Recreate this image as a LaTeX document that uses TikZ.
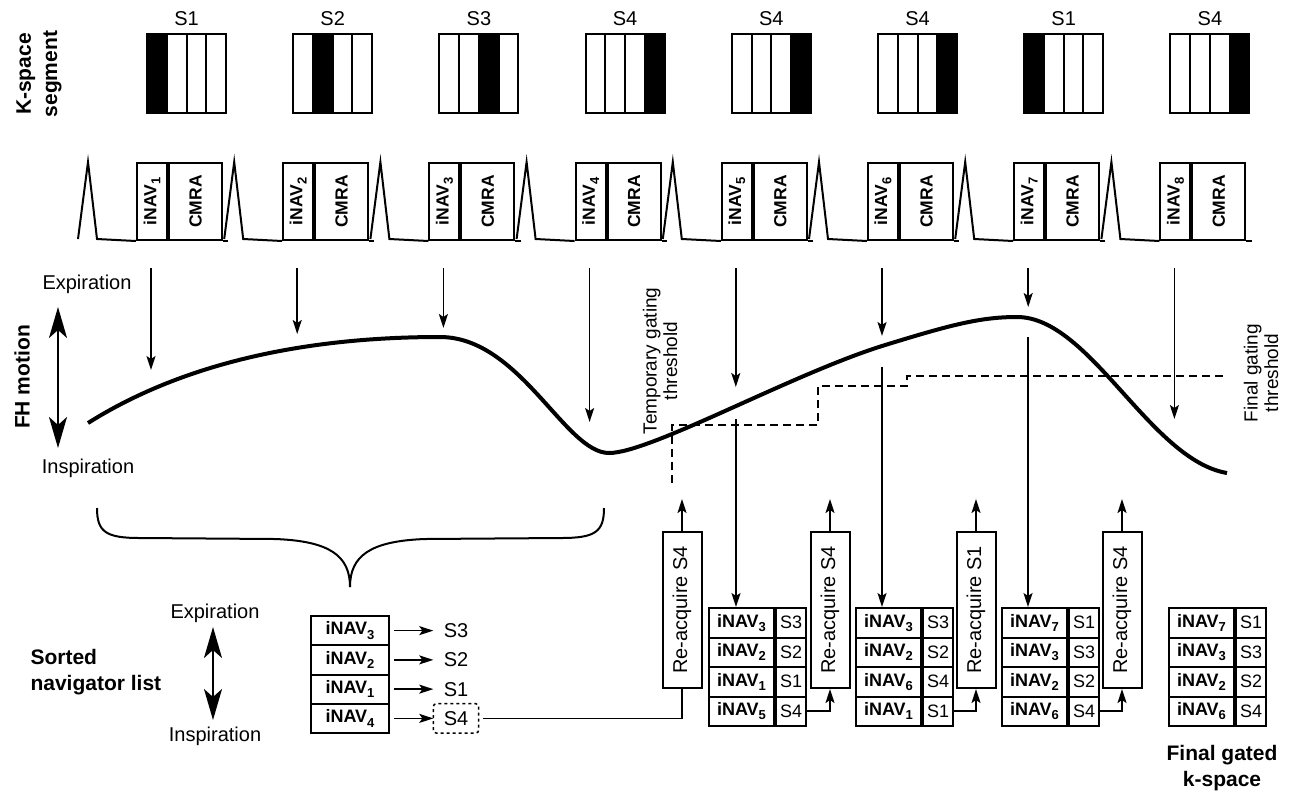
\documentclass[tikz,border=0pt]{standalone}
\usepackage{fontspec}
\setmainfont{Liberation Sans}
\usetikzlibrary{arrows.meta,calc}
\newcommand\fnreg{\fontsize{20}{24}\selectfont}
\newcommand\fnthr{\fontsize{19}{20.5}\selectfont}
\newcommand\fnbold{\fontsize{21}{26}\selectfont\bfseries}
\newcommand\fnbox{\fontsize{17.5}{20}\selectfont\bfseries}
\newcommand\fncell{\fontsize{18}{20}\selectfont}
\newcommand\fncellb{\fontsize{18}{20}\selectfont\bfseries}
\newcommand\nsub[1]{\raisebox{-0.45ex}{\fontsize{13}{13}\selectfont#1}}
\begin{document}
\begin{tikzpicture}[x=1pt,y=-1pt,
  lw/.style={line width=2pt},
  arr/.style={line width=1.7pt,-{Stealth[length=14pt,width=9pt,inset=3pt]}},
  dbl/.style={line width=2.2pt,{Stealth[length=31pt,width=18pt,inset=8pt]}-{Stealth[length=31pt,width=18pt,inset=8pt]}},
  box/.style={draw,line width=2pt,inner sep=0pt},
  navcell/.style={box,minimum width=65pt,minimum height=29.5pt,font=\fncellb,anchor=west},
  scell/.style={box,minimum width=30pt,minimum height=29.5pt,font=\fncell,anchor=west},
  sortcell/.style={box,minimum width=78pt,minimum height=29.25pt,font=\fncellb},
  seglab/.style={minimum width=45pt,minimum height=29pt,inner sep=0pt,font=\fnreg},
  reacq/.style={box,minimum width=39pt,minimum height=156pt,font=\fnreg},
  thr/.style={dash pattern=on 8pt off 5pt,line width=1.7pt}
]
\useasboundingbox (0,0) rectangle (1289,796);

% ---- k-space segments
\node[font=\fnbold,align=center,rotate=90] (kslab) at (39,74) {K-space\\segment};
\foreach \lab/\f [count=\i from 0] in {S1/1,S2/2,S3/3,S4/4,S4/4,S4/4,S1/1,S4/4}{
  \pgfmathsetmacro\xx{147+146.2*\i}
  \fill ({\xx+19.75*(\f-1)},34) rectangle ++(19.75,79);
  \foreach \k in {1,2,3} \draw[lw] ({\xx+19.75*\k},34) -- ++(0,79);
  \node[box,minimum width=79pt,minimum height=79pt] (seg\i) at ({\xx+39.5},73.5) {};
  \node[font=\fnreg] (segl\i) at ({\xx+39.5},19) {\lab};
}

% ---- pulse sequence
\foreach \i in {0,...,7}{
  \pgfmathsetmacro\xs{78+146.2*\i}
  \pgfmathsetmacro\xb{136+146.2*\i}
  \pgfmathtruncatemacro\n{\i+1}
  \node[box,minimum width=30pt,minimum height=77pt,anchor=north west,font=\fnbox] (nav\i) at (\xb,162) {\rotatebox{90}{iNAV\nsub{\n}}};
  \node[box,minimum width=53pt,minimum height=77pt,anchor=north west,font=\fnbox] (cmra\i) at (nav\i.north east) {\rotatebox{90}{CMRA}};
  \draw[lw] (\xs,239) -- ({\xs+10},162) -- ({\xs+19},239) -- (nav\i.south west);
  \draw[lw] (cmra\i.south east) -- ++(5.2,0);
}

% ---- arrows to the curve
\foreach \i/\e in {0/370,1/334,2/328,3/422,4/387,5/336,6/307,7/419}{
  \pgfmathsetmacro\xa{151+146.2*\i}
  \draw[arr] (\xa,268) -- (\xa,\e);
}

% ---- FH motion
\node[font=\fnbold,rotate=90] (fh) at (22,377) {FH motion};
\node[font=\fnreg] (exp1) at (87,284) {Expiration};
\node[font=\fnreg] (ins1) at (88,468) {Inspiration};
\draw[dbl] (58,307) -- (58,448);

\draw[line width=4pt] (88,423) .. controls (180,365) and (300,337) .. (440,337)
  .. controls (520,337) and (565,453) .. (609,453)
  .. controls (650,453) and (790,375) .. (882,346)
  .. controls (950,325) and (980,317) .. (1017,317)
  .. controls (1090,317) and (1150,460) .. (1227,473);

% ---- thresholds
\draw[thr] (672,483) -- (672,425) -- (818,425) -- (818,386) -- (907,386) -- (907,376) -- (1227,376);
\node[font=\fnthr,align=center,rotate=90] (tmp) at (660,361) {Temporary gating\\threshold};
\node[font=\fnthr,align=center,rotate=90] (fin) at (1261,373) {Final gating\\threshold};

% ---- brace
\draw[lw] (97,508) .. controls (97,532) and (106,538) .. (140,538) -- (275,539)
  .. controls (330,541) and (350,556) .. (350,587);
\draw[lw] (604,508) .. controls (604,532) and (595,538) .. (561,538) -- (425,539)
  .. controls (370,541) and (350,556) .. (350,587);

% ---- sorted navigator list
\node[font=\fnbold,align=left,anchor=west] (sorted) at (27,672) {Sorted\\navigator list};
\node[font=\fnreg] (exp2) at (215,613) {Expiration};
\node[font=\fnreg] (ins2) at (215,736) {Inspiration};
\draw[dbl] (213,627) -- (213,720);
\foreach \n/\s [count=\r] in {3/S3,2/S2,1/S1,4/S4}{
  \node[sortcell] (L\r) at (350,{616+29.25*(\r-0.5)}) {iNAV\nsub{\n}};
  \node[seglab] (T\r) at (456,{616+29.25*(\r-0.5)}) {\s};
  \draw[arr,shorten <=4pt] (L\r.east) -- (T\r.west);
}
\draw[dashed,line width=1.5pt,rounded corners=3pt] (T4.south west) rectangle (T4.north east);

% ---- lists
\foreach \L/\xl/\items in {A/708/{3/S3,2/S2,1/S1,5/S4},B/855/{3/S3,2/S2,6/S4,1/S1},C/1001/{7/S1,3/S3,2/S2,6/S4},D/1168/{7/S1,3/S3,2/S2,6/S4}}{
  \foreach \n/\s [count=\r] in \items {
    \node[navcell] (\L-n\r) at (\xl,{593.25+29.5*\r}) {iNAV\nsub{\n}};
    \node[scell] (\L-s\r) at (\L-n\r.east) {\s};
  }
}
\node[font=\fnbold,align=center] (fgk) at (1222,768) {Final gated\\k-space};

% ---- re-acquire boxes
\foreach \k/\xr/\s in {1/682/S4,2/830/S4,3/976/S1,4/1122/S4}{
  \node[reacq] (R\k) at (\xr,610) {\rotatebox{90}{Re-acquire \s}};
  \draw[arr] (R\k.north) -- ++(0,-32);
}
\draw[line width=1.7pt,shorten <=4pt] (T4.east) -- (T4.east -| R1.south) -- (R1.south);
\draw[arr] (A-s4.east) -- (A-s4.east -| R2.south) -- (R2.south);
\draw[arr] (B-s4.east) -- (B-s4.east -| R3.south) -- (R3.south);
\draw[arr] (C-s4.east) -- (C-s4.east -| R4.south) -- (R4.south);

% ---- long arrows into the lists
\coordinate (v1) at (736,419);
\coordinate (v2) at (882,367);
\coordinate (v3) at (1028,337);
\draw[arr] (v1) -- (v1 |- A-n1.north);
\draw[arr] (v2) -- (v2 |- B-n1.north);
\draw[arr] (v3) -- (v3 |- C-n1.north);
\end{tikzpicture}
\end{document}
